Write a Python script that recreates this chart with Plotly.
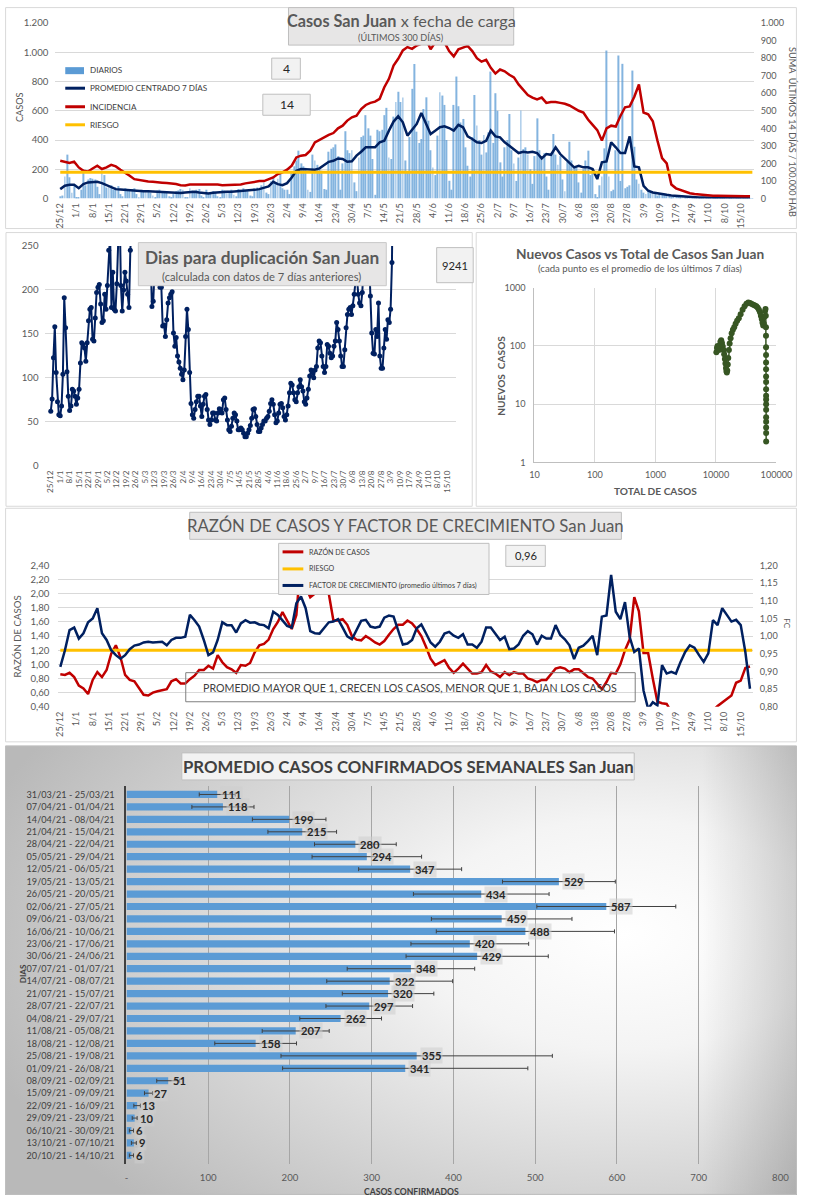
import base64
import pandas as pd
import plotly.graph_objects as go

W, H = 814, 1200
FONT = "Lato, 'Open Sans', sans-serif"
START = pd.Timestamp("2020-12-25")

# ---------------- DATA ----------------
# Daily cases (bars), 25/12/2020 .. 19/10/2021
DIARIOS = [
    15, 20, 150, 300, 145, 40, 95,
    10, 5, 60, 200, 90, 130, 140,
    135, 130, 80, 30, 180, 160, 75,
    80, 90, 60, 75, 85, 30, 15,
    70, 60, 55, 65, 70, 30, 10,
    60, 50, 55, 45, 40, 20, 10,
    55, 60, 45, 40, 50, 15, 10,
    30, 50, 55, 65, 60, 10, 5,
    70, 55, 50, 60, 65, 20, 10,
    60, 40, 35, 50, 45, 15, 10,
    60, 55, 50, 45, 60, 25, 15,
    65, 60, 70, 55, 50, 20, 15,
    70, 75, 60, 90, 110, 40, 30,
    120, 140, 110, 135, 180, 70, 60,
    60, 30, 180, 220, 260, 327, 240,
    220, 210, 60, 45, 300, 260, 230,
    200, 190, 65, 60, 320, 340, 350,
    370, 290, 60, 240, 460, 330, 310,
    330, 110, 50, 280, 420, 430, 570,
    480, 430, 270, 25, 470, 460, 470,
    570, 620, 280, 270, 560, 660, 730,
    660, 690, 260, 180, 420, 750, 920,
    457, 380, 407, 612, 692, 532, 330,
    212, 160, 430, 727, 704, 640, 400,
    121, 60, 640, 834, 631, 520, 544,
    350, 224, 150, 420, 708, 500, 400,
    300, 434, 315, 452, 868, 380, 720,
    600, 247, 150, 350, 400, 578, 330,
    240, 120, 280, 601, 338, 350, 300,
    200, 100, 290, 548, 330, 270, 310,
    150, 60, 300, 441, 300, 230, 290,
    130, 50, 250, 388, 260, 220, 210,
    110, 40, 200, 260, 327, 160, 200,
    30, 10, 90, 150, 343, 1012, 150,
    50, 60, 330, 978, 120, 921, 70,
    80, 90, 875, 354, 130, 100, 60,
    40, 30, 60, 50, 45, 40, 20,
    35, 30, 25, 30, 20, 10, 15,
    20, 15, 12, 15, 10, 8, 10,
    12, 10, 8, 10, 8, 5, 6,
    8, 6, 5, 6, 5, 4, 5,
    6, 5, 4, 5, 4, 3, 4,
    5, 4, 3, 4, 3, 2,
]

# Every 2 days from 25/12/2020
PROMEDIO_7D = [
    64, 87, 94, 94, 70, 98, 110, 112, 114, 105,
    91, 73, 64, 62, 59, 57, 53, 53, 50, 50,
    48, 48, 43, 46, 41, 41, 37, 41, 46, 46,
    41, 37, 34, 39, 43, 46, 46, 46, 48, 50,
    50, 55, 59, 64, 73, 82, 114, 98, 91, 105,
    144, 190, 201, 201, 197, 197, 206, 229, 251, 258,
    274, 270, 251, 254, 293, 320, 350, 350, 350, 384,
    395, 464, 526, 562, 521, 430, 471, 510, 585, 510,
    441, 464, 487, 494, 482, 464, 503, 487, 425, 407,
    384, 379, 395, 464, 425, 418, 384, 361, 338, 311,
    320, 315, 320, 311, 274, 304, 299, 350, 304, 274,
    247, 213, 224, 213, 213, 201, 133, 247, 254, 384,
    350, 311, 311, 425, 219, 213, 87, 53, 41, 34,
    30, 25, 21, 18, 16, 14, 11, 9, 7, 7,
    5, 5, 4, 4, 4, 3, 3, 3, 3, 3,
]

INCIDENCIA = [
    215, 210, 202, 210, 177, 158, 154, 171, 187, 168,
    177, 192, 183, 164, 149, 130, 110, 105, 101, 97,
    95, 91, 90, 88, 86, 82, 76, 74, 80, 80,
    82, 78, 78, 80, 80, 76, 76, 76, 78, 80,
    86, 91, 95, 99, 99, 110, 120, 139, 149, 164,
    187, 234, 244, 248, 272, 320, 335, 349, 362, 373,
    400, 415, 444, 463, 472, 510, 533, 545, 552, 568,
    634, 682, 758, 796, 844, 863, 853, 872, 882, 910,
    850, 890, 905, 890, 840, 810, 850, 860, 870, 840,
    800, 780, 790, 745, 712, 735, 725, 705, 690, 650,
    620, 590, 575, 565, 575, 545, 550, 550, 545, 540,
    530, 515, 500, 490, 450, 420, 390, 330, 400, 415,
    410, 470, 520, 525, 580, 650, 490, 480, 440, 330,
    230, 200, 80, 58, 48, 38, 30, 25, 22, 19,
    17, 15, 15, 14, 14, 14, 14, 13, 13, 13,
]
RIESGO_INCIDENCIA = 150

# Days to double, daily from 25/12/2020
DUPLICACION = [
    62, 76, 123, 158, 106, 73, 58, 57, 68, 104,
    191, 157, 107, 79, 63, 68, 87, 85, 79, 70,
    77, 87, 117, 140, 138, 134, 119, 140, 165, 178,
    180, 144, 142, 168, 197, 203, 206, 184, 163, 165,
    195, 178, 205, 245, 262, 180, 220, 178, 176, 207,
    270, 300, 205, 176, 200, 220, 210, 195, 180, 245,
    280, 320, 300, 350, 400, 380, 350, 300, 260, 280,
    250, 230, 260, 300, 240, 181, 187, 230, 260, 240,
    215, 203, 203, 159, 160, 147, 166, 185, 191, 195,
    198, 151, 136, 146, 125, 118, 111, 104, 98, 109,
    147, 178, 155, 106, 71, 58, 54, 64, 73, 79,
    79, 68, 56, 70, 79, 81, 64, 52, 47, 52,
    60, 60, 52, 51, 60, 65, 64, 60, 75, 77,
    64, 52, 41, 39, 45, 54, 60, 58, 51, 41,
    41, 43, 41, 37, 33, 33, 37, 41, 46, 54,
    64, 65, 56, 47, 39, 39, 43, 47, 51, 51,
    54, 56, 62, 71, 75, 70, 58, 49, 51, 60,
    70, 71, 66, 56, 52, 58, 68, 83, 94, 92,
    83, 75, 73, 83, 90, 98, 90, 85, 73, 70,
    77, 87, 102, 109, 106, 100, 109, 113, 134, 142,
    140, 125, 113, 106, 113, 138, 136, 128, 123, 125,
    136, 142, 163, 155, 142, 125, 113, 113, 132, 157,
    172, 178, 180, 172, 182, 195, 210, 215, 195, 185,
    182, 197, 230, 260, 300, 280, 230, 193, 151, 128,
    127, 155, 147, 185, 125, 111, 111, 134, 155, 144,
    166, 163, 178, 231, 400,
]

# Scatter: total cases vs 7-day average of new cases
TOTAL_CASOS = [
    10150, 10390, 10630, 10875, 11180, 11480, 11845, 12210, 12575, 12940,
    13300, 13670, 14040, 14340, 14640, 14880, 15130, 15370, 15670, 15980,
    16350, 16840, 17450, 18180, 19050, 20030, 21130, 22370, 23850, 25570,
    27550, 29670, 31900, 34250, 36630, 39000, 41500, 44000, 46500, 49020,
    51290, 53420, 55290, 57060, 58720, 60350, 61870, 63380, 64770, 65900,
    66660, 67030, 67150, 67230, 67280, 67320, 67350, 67380, 67400, 67420,
    67440, 67450, 67460, 67470, 67480, 67490, 67500, 67510, 67520,
]
NUEVOS_CASOS = [
    78, 92, 100, 95, 85, 100, 118, 125, 112, 98,
    85, 72, 60, 50, 42, 37, 35, 38, 48, 62,
    85, 110, 135, 165, 190, 210, 240, 270, 300, 350,
    420, 480, 530, 560, 545, 525, 510, 495, 480, 455,
    420, 380, 330, 290, 250, 225, 240, 320, 400, 430,
    330, 210, 150, 95, 70, 52, 40, 30, 24, 18,
    14, 12, 10, 8, 6, 5, 4, 3.2, 2.3,
]

# Every 2 days from 25/12/2020
RAZON_CASOS = [
    0.86, 0.85, 0.88, 0.82, 0.70, 0.66, 0.58, 0.78, 0.89, 0.82,
    0.92, 1.15, 1.27, 1.10, 0.85, 0.78, 0.76, 0.66, 0.57, 0.56,
    0.60, 0.62, 0.63, 0.65, 0.76, 0.79, 0.73, 0.73, 0.79, 0.84,
    0.92, 0.92, 0.98, 0.94, 1.13, 1.03, 0.96, 0.93, 0.88, 0.99,
    0.98, 1.02, 1.17, 1.27, 1.29, 1.35, 1.50, 1.60, 1.74, 1.62,
    1.50, 1.70, 2.50, 2.10, 1.95, 2.00, 2.60, 2.60, 2.00, 1.62,
    1.62, 1.64, 1.56, 1.40, 1.35, 1.34, 1.40, 1.36, 1.31, 1.28,
    1.33, 1.42, 1.50, 1.56, 1.56, 1.62, 1.58, 1.50, 1.40, 1.25,
    1.08, 0.99, 1.02, 1.06, 0.95, 0.88, 0.94, 1.01, 0.94, 0.87,
    0.87, 0.89, 0.99, 0.90, 0.87, 0.82, 0.89, 0.85, 0.89, 0.87,
    0.87, 0.80, 0.78, 0.75, 0.78, 0.78, 0.86, 0.94, 0.96, 0.94,
    0.89, 0.93, 0.93, 0.87, 0.82, 0.80, 0.73, 0.65, 0.75, 0.88,
    0.87, 1.00, 1.20, 1.35, 1.95, 1.75, 1.16, 1.16, 0.80, 0.47,
    0.45, 0.44, 0.33, 0.28, 0.24, 0.20, 0.18, 0.20, 0.24, 0.28,
    0.32, 0.35, 0.41, 0.46, 0.51, 0.56, 0.74, 0.77, 0.95, 0.97,
]
FACTOR_CREC = [
    0.913, 0.960, 1.017, 1.024, 0.993, 1.008, 1.039, 1.050, 1.079, 1.008,
    0.989, 0.960, 0.946, 0.936, 0.946, 0.963, 0.973, 0.976, 0.982, 0.984,
    0.982, 0.984, 0.984, 0.974, 0.989, 0.995, 0.995, 0.998, 1.060, 1.045,
    1.027, 0.989, 0.946, 0.954, 0.989, 1.039, 1.031, 1.031, 1.010, 1.036,
    1.045, 1.038, 1.039, 1.033, 1.031, 1.022, 1.069, 1.060, 1.043, 1.029,
    1.024, 1.093, 1.112, 1.079, 1.014, 1.008, 1.007, 1.022, 1.039, 1.041,
    1.048, 1.024, 0.999, 0.991, 1.018, 1.043, 1.046, 1.027, 1.024, 1.027,
    1.052, 1.058, 1.055, 1.017, 0.976, 0.979, 0.989, 1.022, 1.033, 1.008,
    0.982, 0.970, 0.984, 1.007, 1.012, 1.001, 0.995, 1.005, 0.976, 0.976,
    0.967, 0.984, 1.024, 1.024, 1.008, 0.989, 0.998, 0.963, 0.965, 0.976,
    1.001, 1.014, 1.005, 0.976, 1.001, 0.993, 0.993, 1.031, 1.003, 0.991,
    0.974, 0.935, 0.967, 0.973, 0.986, 1.001, 0.946, 1.055, 1.058, 1.173,
    1.069, 1.048, 1.096, 0.998, 0.955, 0.965, 0.846, 0.794, 0.813, 0.804,
    0.918, 0.894, 0.899, 0.894, 0.927, 0.955, 0.974, 0.967, 0.946, 0.927,
    0.951, 1.045, 1.031, 1.079, 1.060, 1.041, 1.046, 1.031, 0.955, 0.851,
]
RIESGO_RAZON = 1.2

SEMANAS = [
    "31/03/21 - 25/03/21", "07/04/21 - 01/04/21", "14/04/21 - 08/04/21",
    "21/04/21 - 15/04/21", "28/04/21 - 22/04/21", "05/05/21 - 29/04/21",
    "12/05/21 - 06/05/21", "19/05/21 - 13/05/21", "26/05/21 - 20/05/21",
    "02/06/21 - 27/05/21", "09/06/21 - 03/06/21", "16/06/21 - 10/06/21",
    "23/06/21 - 17/06/21", "30/06/21 - 24/06/21", "07/07/21 - 01/07/21",
    "14/07/21 - 08/07/21", "21/07/21 - 15/07/21", "28/07/21 - 22/07/21",
    "04/08/21 - 29/07/21", "11/08/21 - 05/08/21", "18/08/21 - 12/08/21",
    "25/08/21 - 19/08/21", "01/09/21 - 26/08/21", "08/09/21 - 02/09/21",
    "15/09/21 - 09/09/21", "22/09/21 - 16/09/21", "29/09/21 - 23/09/21",
    "06/10/21 - 30/09/21", "13/10/21 - 07/10/21", "20/10/21 - 14/10/21",
]
PROMEDIO_SEMANAL = [111, 118, 199, 215, 280, 294, 347, 529, 434, 587, 459, 488, 420, 429,
                    348, 322, 320, 297, 262, 207, 158, 355, 341, 51, 27, 13, 10, 6, 9, 6]
DESVIO_SEMANAL = [22, 38, 45, 42, 50, 67, 63, 69, 83, 85, 86, 109, 72, 87,
                  78, 77, 56, 53, 50, 41, 50, 166, 150, 14, 5, 4, 3, 2.5, 3, 2.5]

# ---------------- helpers ----------------
dias = pd.date_range(START, periods=len(DIARIOS), freq="D")
dias2 = pd.date_range(START, periods=len(PROMEDIO_7D), freq="2D")
dias_dup = pd.date_range(START, periods=len(DUPLICACION), freq="D")
week_ticks = pd.date_range(START, "2021-10-15", freq="7D")
tickvals = [d.strftime("%Y-%m-%d") for d in week_ticks]
ticktext = [f"{d.day}/{d.month}" for d in week_ticks]

# layout positions are given in target-picture pixels; the page is shown
# slightly shrunk and offset, so convert picture pixels to figure fractions
SX, OX = 0.985, 3.0
SY, OY = 0.9875, 8.0
FS = 1.0 / SX


def fx(x):
    return min(max((x - OX) / SX / W, 0.0), 1.0)


def fy(y):
    return min(max(1 - (y - OY) / SY / H, 0.0), 1.0)


def px_x(a, b):
    return [fx(a), fx(b)]


def px_y(top, bottom):
    return [fy(bottom), fy(top)]


def drange(d0, d1):
    return [str(START + pd.Timedelta(days=d0)), str(START + pd.Timedelta(days=d1))]


shapes, annotations = [], []


def rect(x0, y0, x1, y1, fill="rgba(0,0,0,0)", line="#d9d9d9", lw=1, layer="above"):
    shapes.append(dict(type="rect", xref="paper", yref="paper",
                       x0=max(fx(x0), 0.6 / W), x1=min(fx(x1), 1 - 0.6 / W),
                       y0=max(fy(y1), 0.6 / H), y1=min(fy(y0), 1 - 0.6 / H),
                       fillcolor=fill, line=dict(color=line, width=lw), layer=layer))


def hline(x0, x1, y, color, width=3):
    shapes.append(dict(type="line", xref="paper", yref="paper", x0=fx(x0), x1=fx(x1),
                       y0=fy(y), y1=fy(y), line=dict(color=color, width=width),
                       layer="above"))


def T(x, y, s, size, color="#595959", anchor="center", angle=0):
    annotations.append(dict(xref="paper", yref="paper", x=fx(x), y=fy(y), text=s,
                            showarrow=False, xanchor=anchor, yanchor="middle",
                            textangle=angle,
                            font=dict(size=size * FS, color=color, family=FONT)))


NAVY, RED, YELLOW, BLUE = "#002060", "#c00000", "#ffc000", "#5b9bd5"
GRID = "#d9d9d9"
TICKC = "#595959"

fig = go.Figure()

# ---------- Panel 1 ----------
fig.add_trace(go.Bar(x=dias, y=DIARIOS, width=0.38 * 86400000, marker_color=BLUE,
                     opacity=0.75, marker_line_width=0, xaxis="x", yaxis="y"))
fig.add_trace(go.Scatter(x=dias2, y=PROMEDIO_7D, mode="lines",
                         line=dict(color=NAVY, width=2.5), xaxis="x", yaxis="y"))
fig.add_trace(go.Scatter(x=dias2, y=INCIDENCIA, mode="lines",
                         line=dict(color=RED, width=2.5), xaxis="x", yaxis="y2"))
fig.add_trace(go.Scatter(x=dias, y=[RIESGO_INCIDENCIA] * len(dias), mode="lines",
                         line=dict(color=YELLOW, width=3), xaxis="x", yaxis="y2"))

# ---------- Panel 2 ----------
fig.add_trace(go.Scatter(x=dias_dup, y=DUPLICACION, mode="lines+markers",
                         line=dict(color=NAVY, width=2), marker=dict(size=5, color=NAVY),
                         xaxis="x2", yaxis="y3"))

# ---------- Panel 3 ----------
fig.add_trace(go.Scatter(x=TOTAL_CASOS, y=NUEVOS_CASOS, mode="lines+markers",
                         line=dict(color="#375623", width=1.5),
                         marker=dict(size=6, color="#375623"), xaxis="x3", yaxis="y4"))

# ---------- Panel 4 ----------
fig.add_trace(go.Scatter(x=dias2, y=RAZON_CASOS, mode="lines",
                         line=dict(color=RED, width=2.5), xaxis="x4", yaxis="y5"))
fig.add_trace(go.Scatter(x=dias, y=[RIESGO_RAZON] * len(dias), mode="lines",
                         line=dict(color=YELLOW, width=3), xaxis="x4", yaxis="y5"))
fig.add_trace(go.Scatter(x=dias2, y=FACTOR_CREC, mode="lines",
                         line=dict(color=NAVY, width=2.5), xaxis="x4", yaxis="y6"))

# ---------- Panel 5 ----------
fig.add_trace(go.Bar(x=PROMEDIO_SEMANAL, y=SEMANAS, orientation="h", marker_color=BLUE,
                     marker_line_width=0,
                     error_x=dict(type="data", array=DESVIO_SEMANAL, color="#404040",
                                  thickness=1, width=2),
                     xaxis="x5", yaxis="y7"))
for v, s in zip(PROMEDIO_SEMANAL, SEMANAS):
    annotations.append(dict(xref="x5", yref="y7", x=v, y=s, text=f"<b>{v}</b>",
                            showarrow=False, xanchor="left", yanchor="middle", xshift=3,
                            bgcolor="rgba(205,205,205,0.55)", borderpad=1,
                            font=dict(size=11 * FS, color="#262626", family=FONT)))

# ---------- decorations ----------
svg = ("<svg xmlns='http://www.w3.org/2000/svg' width='808' height='453' viewBox='0 0 808 453' "
       "preserveAspectRatio='none'><defs>"
       "<radialGradient id='g' cx='0.78' cy='0.42' r='0.85'>"
       "<stop offset='0' stop-color='#ffffff'/><stop offset='0.3' stop-color='#f4f4f4'/>"
       "<stop offset='1' stop-color='#b9b9b9'/></radialGradient>"
       "<linearGradient id='e' x1='0' y1='0' x2='1' y2='0'>"
       "<stop offset='0.88' stop-color='#000' stop-opacity='0'/>"
       "<stop offset='1' stop-color='#000' stop-opacity='0.16'/></linearGradient></defs>"
       "<rect width='808' height='453' fill='url(#g)'/>"
       "<rect width='808' height='453' fill='url(#e)'/></svg>")
img_src = "data:image/svg+xml;base64," + base64.b64encode(svg.encode()).decode()

rect(2, 2, 811, 229, layer="below")
rect(4, 233, 476, 506, layer="below")
rect(480, 233, 811, 506, layer="below")
rect(2, 508, 811, 741, layer="below")
rect(3, 745, 811, 1198, line="#bfbfbf", layer="below")

# Panel 1 texts
rect(290, 7, 518, 46, fill="#e7e6e6", line="#bfbfbf")
T(404, 21, "<b>Casos San Juan</b> x fecha de carga", 16)
T(404, 38, "(ÚLTIMOS 300 DÍAS)", 9)
shapes.append(dict(type="rect", xref="paper", yref="paper", x0=fx(64), x1=fx(83),
                   y0=fy(75), y1=fy(68), fillcolor=BLUE, line=dict(width=0),
                   layer="above"))
hline(64, 84, 89, NAVY)
hline(64, 84, 107.5, RED)
hline(64, 84, 125.5, YELLOW)
T(87, 71, "DIARIOS", 8, "#404040", anchor="left")
T(87, 89, "PROMEDIO CENTRADO 7 DÍAS", 8, "#404040", anchor="left")
T(87, 107.5, "INCIDENCIA", 8, "#404040", anchor="left")
T(87, 125.5, "RIESGO", 8, "#404040", anchor="left")
rect(273, 59, 302, 80, fill="#f2f2f2", line="#bfbfbf")
T(287.5, 69.5, "4", 12, "#262626")
rect(264, 95, 312, 116, fill="#f2f2f2", line="#bfbfbf")
T(288, 105.5, "14", 12, "#262626")
T(17, 108, "CASOS", 9, angle=-90)
T(800, 133, "SUMA  ÚLTIMOS 14 DÍAS / 100.000 HAB", 9, angle=90)

# Panel 2 texts
rect(138, 243, 389, 286, fill="#e7e6e6", line="#c8c8c8")
T(263, 258, "<b>Dias para duplicación San Juan</b>", 17)
T(263, 277, "(calculada con datos de 7 días anteriores)", 11)
rect(440, 248, 477, 283, fill="#f2f2f2", line="#bfbfbf")
T(458.5, 265.5, "9241", 11, "#262626")

# Panel 3 texts
T(646, 254, "<b>Nuevos Casos vs Total de Casos San Juan</b>", 13.5)
T(646, 268, "(cada punto es el promedio de los últimos 7 días)", 9.5)
T(505, 376, "<b>NUEVOS  CASOS</b>", 10, angle=-90)
T(662, 491, "<b>TOTAL DE CASOS</b>", 10)

# Panel 4 texts
rect(190, 512, 627, 539, fill="#e7e6e6", line="#bfbfbf")
T(408, 525.5, "RAZÓN DE CASOS Y FACTOR DE CRECIMIENTO San Juan", 16.5)
rect(280, 543, 493, 594, fill="#f2f2f2", line="#bfbfbf")
hline(284, 305, 551.5, RED)
hline(284, 305, 568.5, YELLOW)
hline(284, 305, 585, NAVY)
T(309, 551.5, "RAZÓN DE CASOS", 7, "#404040", anchor="left")
T(309, 568.5, "RIESGO", 7, "#404040", anchor="left")
T(309, 585, "FACTOR DE CRECIMIENTO (promedio últimos 7 días)", 7, "#404040", anchor="left")
rect(510, 545, 550, 566, fill="#f2f2f2", line="#bfbfbf")
T(530, 555.5, "0,96", 11, "#262626")
rect(186, 672, 641, 701, line="#7f7f7f")
T(413.5, 686.5, "PROMEDIO MAYOR QUE 1, CRECEN LOS CASOS, MENOR QUE 1, BAJAN LOS CASOS",
  10.5, "#404040")
T(15, 636, "RAZÓN DE CASOS", 9.5, angle=-90)
T(795, 623, "FC", 8, angle=90)

# Panel 5 texts
rect(182, 752, 640, 779, fill="#f2f2f2", line="#bfbfbf")
T(411, 766, "<b>PROMEDIO CASOS CONFIRMADOS SEMANALES San Juan</b>", 16.5, "#404040")
T(22, 972, "<b>DIAS</b>", 8, "#404040", angle=-90)
T(415, 1190, "<b>CASOS CONFIRMADOS</b>", 8.5, "#404040")

date_axis = dict(type="date", tickvals=tickvals, ticktext=ticktext, tickangle=-90,
                 showgrid=False, zeroline=False, ticks="", showline=False,
                 tickfont=dict(size=9 * FS, color=TICKC), ticklabelstandoff=2)

fig.update_layout(
    width=W, height=H, margin=dict(l=0, r=0, t=0, b=0), autosize=False,
    paper_bgcolor="white", plot_bgcolor="rgba(0,0,0,0)", separators=",.",
    showlegend=False, bargap=0.42, font=dict(family=FONT, color=TICKC),
    xaxis=dict(date_axis, domain=px_x(54, 761), range=drange(-2.1, 299.6), anchor="y"),
    yaxis=dict(domain=px_y(24, 199), range=[0, 1200], dtick=200, tickformat=",.0f",
               gridcolor=GRID, zeroline=False, anchor="x", ticks="",
               tickfont=dict(size=9.5 * FS, color=TICKC), ticklabelstandoff=6),
    yaxis2=dict(overlaying="y", side="right", anchor="x", range=[0, 1000], dtick=100,
                tickformat=",.0f", showgrid=False, zeroline=False, ticks="",
                tickfont=dict(size=9 * FS, color=TICKC), ticklabelstandoff=6),
    xaxis2=dict(date_axis, domain=px_x(44, 460), range=drange(-3.9, 300.8), anchor="y3",
                tickfont=dict(size=8 * FS, color=TICKC)),
    yaxis3=dict(domain=px_y(246.3, 465.7), range=[0, 250], dtick=50, gridcolor=GRID,
                zeroline=False, anchor="x2", ticks="",
                tickfont=dict(size=9.5 * FS, color=TICKC), ticklabelstandoff=6),
    xaxis3=dict(type="log", domain=px_x(539, 784), range=[1, 5], anchor="y4",
                tickvals=[10, 100, 1000, 10000, 100000],
                ticktext=["10", "100", "1000", "10000", "100000"],
                gridcolor=GRID, showline=True, linecolor="#bfbfbf", zeroline=False,
                ticks="", tickfont=dict(size=9 * FS, color=TICKC), ticklabelstandoff=4),
    yaxis4=dict(type="log", domain=px_y(288, 462.3), range=[0, 3], anchor="x3",
                tickvals=[1, 10, 100, 1000], ticktext=["1", "10", "100", "1000"],
                gridcolor=GRID, showline=True, linecolor="#bfbfbf", zeroline=False,
                ticks="", tickfont=dict(size=9 * FS, color=TICKC), ticklabelstandoff=6),
    xaxis4=dict(date_axis, domain=px_x(57, 760), range=drange(-0.85, 299.2), anchor="y5"),
    yaxis5=dict(domain=px_y(565, 706), range=[0.4, 2.4], dtick=0.2, tickformat=".2f",
                gridcolor=GRID, zeroline=False, anchor="x4", ticks="",
                tickfont=dict(size=9.5 * FS, color=TICKC), ticklabelstandoff=8),
    yaxis6=dict(overlaying="y5", side="right", anchor="x4", range=[0.8, 1.2], dtick=0.05,
                tickformat=".2f", showgrid=False, zeroline=False, ticks="",
                tickfont=dict(size=9 * FS, color=TICKC), ticklabelstandoff=6),
    xaxis5=dict(domain=px_x(126, 788), range=[0, 800], anchor="y7",
                tickvals=[0, 100, 200, 300, 400, 500, 600, 700, 800],
                ticktext=["-", "100", "200", "300", "400", "500", "600", "700", "800"],
                gridcolor="#a6a6a6", zeroline=False, ticks="",
                tickfont=dict(size=9.5 * FS, color=TICKC), ticklabelstandoff=6),
    yaxis7=dict(domain=px_y(785, 1162), anchor="x5", type="category",
                autorange="reversed", showline=True, linecolor="#404040", linewidth=2,
                showgrid=False, ticks="", tickfont=dict(size=9 * FS, color="#404040"),
                ticklabelstandoff=8),
    shapes=shapes, annotations=annotations,
    images=[dict(source=img_src, xref="paper", yref="paper", x=fx(3), y=fy(745),
                 sizex=fx(811) - fx(3), sizey=fy(745) - fy(1198), xanchor="left",
                 yanchor="top", sizing="stretch", layer="below")],
)

fig.write_html("out.html",
               config={"displayModeBar": False, "responsive": False},
               post_script="document.body.style.margin='0';"
                           "document.body.style.overflow='hidden';"
                           "document.documentElement.style.overflow='hidden';")
